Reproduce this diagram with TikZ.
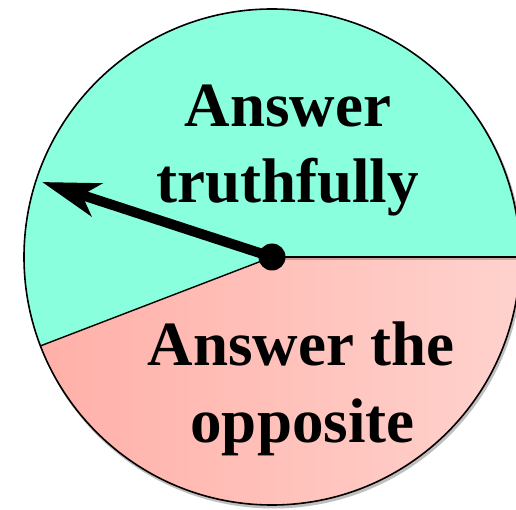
\documentclass[tikz,border=0pt]{standalone}
\usepackage{fontspec}
\setmainfont{Liberation Serif}
\usetikzlibrary{arrows.meta}
\definecolor{teal1}{RGB}{138,255,222}
\definecolor{pinkL}{RGB}{255,176,168}
\definecolor{pinkR}{RGB}{255,210,205}
\tikzset{
  lbl/.style={anchor=base, inner sep=0pt, font=\bfseries\fontsize{63}{76}\selectfont},
  rim/.style={draw=black, line width=1.6pt},
  divider/.style={draw=black, line width=1.4pt},
  pointer/.style={line width=10pt, -{Stealth[length=57pt, width=34pt, inset=15pt]}},
}
\begin{document}
\begin{tikzpicture}[x=1pt,y=1pt]
\useasboundingbox (0,0) rectangle (516,509);
\clip (0,0) rectangle (516,509);
\coordinate (c) at (272,252);
% shadow
\fill[black, opacity=0.25] (273.5,249.5) circle (249);
% sectors
\fill[teal1] (c) -- ++(0:248) arc (0:201:248) -- cycle;
\shade[left color=pinkL, right color=pinkR] (c) -- ++(201:248) arc (201:360:248) -- cycle;
% divider shadow
\draw[black, opacity=0.2, line width=2pt] ([yshift=-2.5]c) -- ++(0:250);
\draw[divider] (c) -- ++(0:250);
\draw[divider] (c) -- ++(201:248);
\draw[rim] (c) circle (248);
% labels
\node[lbl] (l1) at (288,382) {Answer};
\node[lbl] (l2) at (287.5,306) {truthfully};
\node[lbl] (l3) at (301,144) {Answer the};
\node[lbl] (l4) at (302.5,67) {opposite};
% pointer
\coordinate (tip) at (42,327);
\node[circle, fill=black, minimum size=27pt, inner sep=0pt] (hub) at (c) {};
\draw[pointer] (hub.center) -- (tip);
\end{tikzpicture}
\end{document}
